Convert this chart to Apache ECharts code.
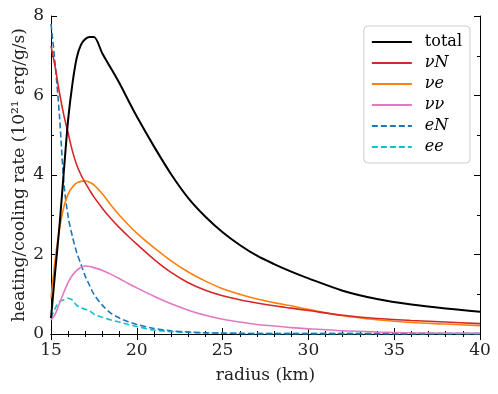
<!DOCTYPE html>
<html>
<head>
<meta charset="utf-8">
<script src="https://cdn.jsdelivr.net/npm/echarts@6/dist/echarts.min.js"></script>
<style>
  html, body { margin: 0; padding: 0; background: #fff; }
  #chart { width: 498px; height: 394px; }
</style>
</head>
<body>
<div id="chart"></div>
<script>
// radius grid (km)
const radius = [15, 15.25, 15.5, 15.75, 16, 16.25, 16.5, 16.75, 17, 17.25, 17.5, 18, 18.5, 19, 19.5, 20,
  21, 22, 23, 24, 25, 26, 27, 28, 29, 30, 32, 34, 36, 38, 40];

// heating/cooling rates, 10^21 erg/g/s
const total = [0.4, 1.6, 2.75, 4.1, 5.4, 6.3, 6.95, 7.28, 7.42, 7.47, 7.47, 7.05, 6.68, 6.3, 5.88, 5.47,
  4.72, 4.02, 3.42, 2.95, 2.56, 2.24, 1.97, 1.76, 1.57, 1.4, 1.09, 0.88, 0.74, 0.64, 0.56];
const nuN = [7.25, 6.7, 6.05, 5.5, 5.05, 4.6, 4.25, 4.0, 3.8, 3.62, 3.45, 3.16, 2.9, 2.67, 2.46, 2.26,
  1.88, 1.55, 1.29, 1.1, 0.96, 0.86, 0.78, 0.71, 0.65, 0.59, 0.47, 0.39, 0.34, 0.3, 0.26];
const nue = [0.9, 1.9, 2.65, 3.2, 3.52, 3.7, 3.8, 3.84, 3.85, 3.82, 3.75, 3.52, 3.24, 2.98, 2.75, 2.54,
  2.17, 1.84, 1.56, 1.33, 1.14, 1.0, 0.88, 0.79, 0.71, 0.62, 0.46, 0.36, 0.29, 0.25, 0.21];
const nunu = [0.35, 0.5, 0.78, 1.05, 1.3, 1.48, 1.6, 1.68, 1.71, 1.7, 1.67, 1.6, 1.5, 1.39, 1.27, 1.16,
  0.95, 0.76, 0.6, 0.47, 0.37, 0.3, 0.24, 0.2, 0.16, 0.13, 0.08, 0.05, 0.03, 0.02, 0.015];
const eN = [7.8, 6.75, 5.45, 3.8, 2.95, 2.45, 2.05, 1.75, 1.45, 1.22, 1.0, 0.72, 0.52, 0.4, 0.31, 0.24,
  0.14, 0.08, 0.05, 0.03, 0.02, 0.015, 0.01, 0.01, 0.01, 0.01, 0.01, 0.01, 0.01, 0.01, 0.01];
const ee = [0.4, 0.65, 0.82, 0.86, 0.9, 0.85, 0.72, 0.66, 0.62, 0.58, 0.5, 0.42, 0.35, 0.3, 0.24, 0.19,
  0.1, 0.06, 0.04, 0.03, 0.02, 0.015, 0.01, 0.01, 0.01, 0.01, 0.01, 0.01, 0.01, 0.01, 0.01];

const names = ['total', 'νN', 'νe', 'νν', 'eN', 'ee'];
const colors = ['#000000', '#d62728', '#ff7f0e', '#e377c2', '#1f77b4', '#17becf'];
const values = [total, nuN, nue, nunu, eN, ee];

const font = 'DejaVu Serif';

function pairs(v) {
  return radius.map((r, i) => [r, v[i]]);
}

const tickStyle = { inside: true, length: 6, lineStyle: { color: '#000', width: 1 } };
const minorStyle = { show: true, splitNumber: 5, length: 3, lineStyle: { color: '#000', width: 1 } };

const chart = echarts.init(document.getElementById('chart'));
chart.setOption({
  animation: false,
  textStyle: { fontFamily: font },
  grid: { left: 51, right: 18, top: 16, bottom: 60 },
  legend: {
    orient: 'vertical',
    right: 28,
    top: 26,
    itemWidth: 40,
    itemHeight: 10,
    itemGap: 5,
    padding: [8, 8, 8, 7],
    borderColor: '#cccccc',
    borderWidth: 1,
    borderRadius: 4,
    backgroundColor: 'rgba(255,255,255,0.8)',
    itemStyle: { opacity: 0 },
    data: names,
    formatter: function (n) {
      return n === 'total' ? '{t|' + n + '}' : '{i|' + n + '}';
    },
    textStyle: {
      fontFamily: font, fontSize: 16, color: '#000', lineHeight: 16,
      rich: {
        t: { fontFamily: font, fontSize: 16, color: '#000', padding: [0, 0, 0, 8], lineHeight: 16 },
        i: { fontFamily: font, fontSize: 16, fontStyle: 'italic', color: '#000', padding: [0, 0, 0, 8], lineHeight: 16 }
      }
    }
  },
  xAxis: [{
    type: 'value', min: 15, max: 40, interval: 5,
    name: 'radius (km)', nameLocation: 'middle', nameGap: 33,
    nameTextStyle: { fontFamily: font, fontSize: 17, color: '#222' },
    axisLine: { lineStyle: { color: '#000', width: 1 } },
    axisTick: tickStyle, minorTick: minorStyle,
    axisLabel: { fontFamily: font, fontSize: 17, color: '#222', margin: 8 },
    splitLine: { show: false }
  }, {
    type: 'value', min: 15, max: 40, interval: 5, position: 'top',
    axisLine: { lineStyle: { color: '#000', width: 1 } },
    axisTick: tickStyle, minorTick: minorStyle,
    axisLabel: { show: false }, splitLine: { show: false }
  }],
  yAxis: [{
    type: 'value', min: 0, max: 8, interval: 2,
    name: 'heating/cooling rate (10²¹ erg/g/s)', nameLocation: 'middle', nameGap: 23,
    nameMoveOverlap: false,
    nameTextStyle: { fontFamily: font, fontSize: 17, color: '#222' },
    axisLine: { show: true, lineStyle: { color: '#000', width: 1 } },
    axisTick: tickStyle, minorTick: Object.assign({}, minorStyle, { splitNumber: 2 }),
    axisLabel: { fontFamily: font, fontSize: 17, color: '#222', margin: 7 },
    splitLine: { show: false }
  }, {
    type: 'value', min: 0, max: 8, interval: 2, position: 'right',
    axisLine: { show: true, lineStyle: { color: '#000', width: 1 } },
    axisTick: tickStyle, minorTick: Object.assign({}, minorStyle, { splitNumber: 2 }),
    axisLabel: { show: false }, splitLine: { show: false }
  }],
  series: names.map((n, k) => ({
    name: n,
    type: 'line',
    data: pairs(values[k]),
    showSymbol: false,
    symbol: 'none',
    smooth: 0.3,
    color: colors[k],
    lineStyle: {
      color: colors[k],
      width: k === 0 ? 2 : 1.6,
      type: k >= 4 ? [6, 3] : 'solid'
    },
    z: 10 - k
  }))
});
</script>
</body>
</html>
